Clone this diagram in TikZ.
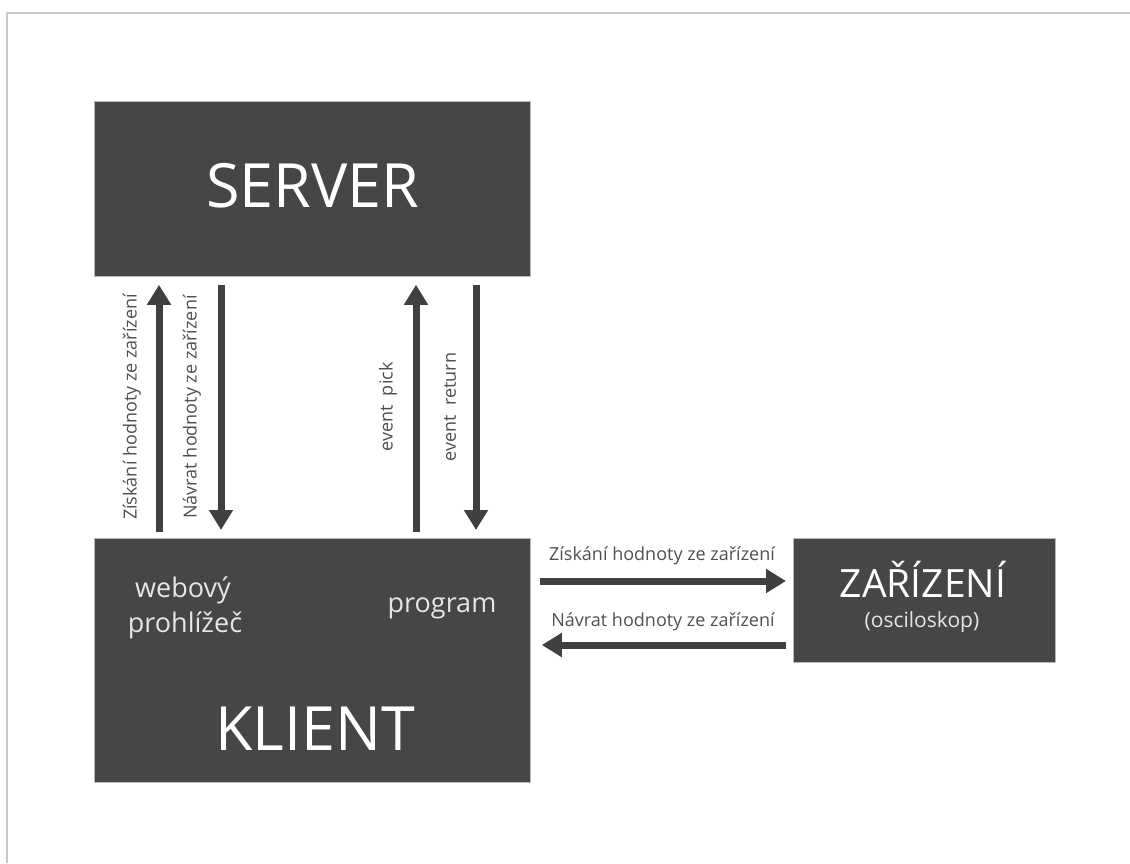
\documentclass[tikz,border=0pt]{standalone}
\usepackage{fontspec}
\setmainfont{Open Sans}
\usetikzlibrary{arrows.meta,calc}
\definecolor{boxc}{HTML}{464646}
\definecolor{arrc}{HTML}{404040}
\definecolor{labc}{HTML}{505050}
\definecolor{framec}{HTML}{C8C8C8}
\definecolor{softw}{HTML}{E6E6E6}
\begin{document}
\begin{tikzpicture}[x=1pt,y=-1pt,
  blk/.style={fill=boxc, draw=gray!55, line width=0.8pt, inner sep=0pt, anchor=north west},
  conn/.style={draw=arrc, line width=7pt, -{Triangle[width=23pt,length=20pt]}},
  lab/.style={text=labc, font=\fontsize{18}{20}\selectfont, inner sep=0pt},
  vlab/.style={lab, rotate=90, anchor=center},
  big/.style={text=white, inner sep=0pt, anchor=base},
  small/.style={text=softw, inner sep=0pt, anchor=base, font=\fontsize{27}{32}\selectfont}]
\useasboundingbox (0,0) rectangle (1130,863);
\fill[white] (0,0) rectangle (1130,863);
% frame
\draw[framec, line width=2pt] (1130,12.7) -- (6.7,12.7) -- (6.7,863);
% boxes
\node[blk, minimum width=436pt, minimum height=175pt] (srv) at (94,101) {};
\node[blk, minimum width=436pt, minimum height=244pt] (kli) at (94,538) {};
\node[blk, minimum width=262pt, minimum height=124pt] (zar) at (793,538) {};
% box texts
\node[big, font=\fontsize{61}{70}\selectfont] (srvt) at (313,207) {SERVER};
\node[big, font=\fontsize{61}{70}\selectfont] (klit) at (315,750) {KLIENT};
\node[big, font=\fontsize{39}{44}\selectfont] (zart) at (923,597) {ZAŘÍZENÍ};
\node[small, font=\fontsize{21}{24}\selectfont] (osc) at (922,627) {(osciloskop)};
\node[small] (web1) at (183,597) {webový};
\node[small] (web2) at (185,632) {prohlížeč};
\node[small] (prog) at (442,612) {program};
% vertical connectors
\draw[conn] ($(kli.north west)+(65,-6)$) -- ($(srv.south west)+(65,8)$);
\draw[conn] ($(srv.south west)+(127,8)$) -- ($(kli.north west)+(127,-8)$);
\draw[conn] ($(kli.north west)+(322,-6)$) -- ($(srv.south west)+(322,8)$);
\draw[conn] ($(srv.south west)+(382,8)$) -- ($(kli.north west)+(382,-8)$);
% horizontal connectors
\draw[conn] ($(kli.north east)+(9,43)$) -- ($(zar.north west)+(-7,43)$);
\draw[conn] ($(zar.north west)+(-7,107)$) -- ($(kli.north east)+(11,107)$);
% labels
\node[vlab] (l1) at (132,407) {Získání hodnoty ze zařízení};
\node[vlab] (l2) at (192,407) {Návrat hodnoty ze zařízení};
\node[vlab] (l3) at (388,407) {event\ \ pick};
\node[vlab] (l4) at (450,407) {event\ \ return};
\node[lab, anchor=base] (l5) at (662,560) {Získání hodnoty ze zařízení};
\node[lab, anchor=base] (l6) at (663,626) {Návrat hodnoty ze zařízení};
\end{tikzpicture}
\end{document}
